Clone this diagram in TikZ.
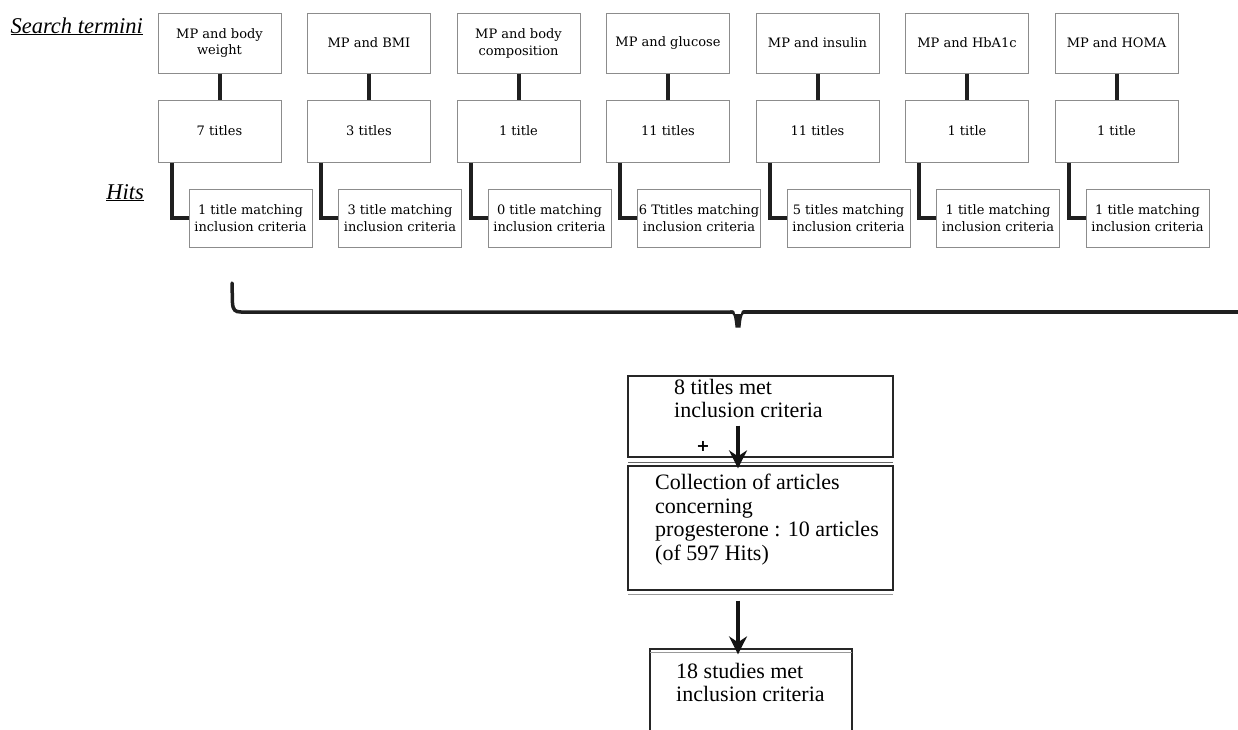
\documentclass[tikz,border=0pt]{standalone}
\usepackage{fontspec}
\setmainfont{Liberation Serif}
\newfontfamily\topfont{DejaVu Serif}
\newfontfamily\plusfont{DejaVu Sans}
\usetikzlibrary{arrows.meta,calc}
\begin{document}
\begin{tikzpicture}[x=1pt,y=-1pt,
  tbox/.style={draw=black!45, line width=1pt, fill=white, minimum width=123pt,
    inner sep=1pt, align=center, font=\topfont\fontsize{13}{17}\selectfont},
  conn/.style={line width=4pt, black!88},
  bbox/.style={draw=black!85, line width=1.3pt, fill=white},
  btext/.style={anchor=north west, inner sep=0pt, align=left,
    font=\fontsize{22}{23.5}\selectfont},
  lab/.style={anchor=base east, inner sep=0pt, font=\itshape\fontsize{22.5}{24}\selectfont},
  arr/.style={line width=3.6pt, black!92, -{Stealth[length=18pt,width=18pt,inset=6pt]}},
  brace/.style={line width=3.5pt, black!88, line cap=round}
]
\useasboundingbox (0,0) rectangle (1238,729);
\clip (0,0) rectangle (1238,729);

% labels
\node[lab] (st) at (143,33) {\underline{Search termini}};
\node[lab] (hits) at (144,199) {\underline{Hits}};

% columns
\foreach \i/\a/\b/\c in {
  1/{MP and body\\weight}/{7 titles}/{1 title matching\\inclusion criteria},
  2/{MP and BMI}/{3 titles}/{3 title matching\\inclusion criteria},
  3/{MP and body\\composition}/{1 title}/{0 title matching\\inclusion criteria},
  4/{MP and glucose}/{11 titles}/{6 Ttitles matching\\inclusion criteria},
  5/{MP and insulin}/{11 titles}/{5 titles matching\\inclusion criteria},
  6/{MP and HbA1c}/{1 title}/{1 title matching\\inclusion criteria},
  7/{MP and HOMA}/{1 title}/{1 title matching\\inclusion criteria}}{
  \pgfmathsetmacro{\cx}{219.5+149.5*(\i-1)}
  \node[tbox, minimum height=60pt] (r1-\i) at (\cx,43) {\a};
  \node[tbox, minimum height=62pt] (r2-\i) at (\cx,131) {\b};
  \node[tbox, minimum height=58pt] (r3-\i) at (\cx+31,218) {\c};
  \draw[conn] (r1-\i.south) -- (r2-\i.north);
  \draw[conn] ([xshift=14pt]r2-\i.south west) |- (r3-\i.west);
}

% brace
\draw[brace] (232,283) -- (232.5,303) .. controls (233,310) and (235,312) .. (241,312) -- (732,312);
\draw[brace] (744,312) -- (1250,312);
\fill[black!88] (730,310.3) -- (733,310.3) .. controls (734.5,310.5) and (734.5,312) .. (735,314)
  -- (741,314) .. controls (741.5,312) and (741.5,310.5) .. (743,310.3) -- (746,310.3)
  -- (746,313.7) -- (744,313.7) .. controls (742,314.5) and (741.5,318) .. (740.5,327.5)
  -- (735.5,327.5) .. controls (734.5,318) and (734,314.5) .. (732,313.7) -- (730,313.7) -- cycle;

% lower boxes
\node[bbox, minimum width=265pt, minimum height=81pt] (A) at (760.5,416.5) {};
\node[btext] (At) at (674,379) {8 titles met\\inclusion criteria};
\node[inner sep=0pt, font=\plusfont\bfseries\fontsize{16}{16}\selectfont] (plus) at (703,446) {+};
\draw[black!60, line width=0.8pt] (628,462) -- (893,462);
\node[bbox, minimum width=265pt, minimum height=124pt] (B) at (760.5,528) {};
\draw[black!40, line width=0.8pt] (628,594) -- (893,594);
\node[btext] (Bt) at (655,474) {Collection of articles\\concerning\\progesterone : 10 articles\\(of 597 Hits)};
\node[bbox, minimum width=202pt, minimum height=100pt] (C) at (751,699) {};
\draw[black!40, line width=0.8pt] (650,652) -- (852,652);
\node[btext] (Ct) at (676,663) {18 studies met\\inclusion criteria};

\draw[arr] ([xshift=-22.5pt,yshift=32pt]A.south) -- ([xshift=-22.5pt,yshift=-3pt]B.north);
\draw[arr] ([xshift=-22.5pt,yshift=-10pt]B.south) -- ([xshift=-13pt,yshift=-6pt]C.north);
\end{tikzpicture}
\end{document}
